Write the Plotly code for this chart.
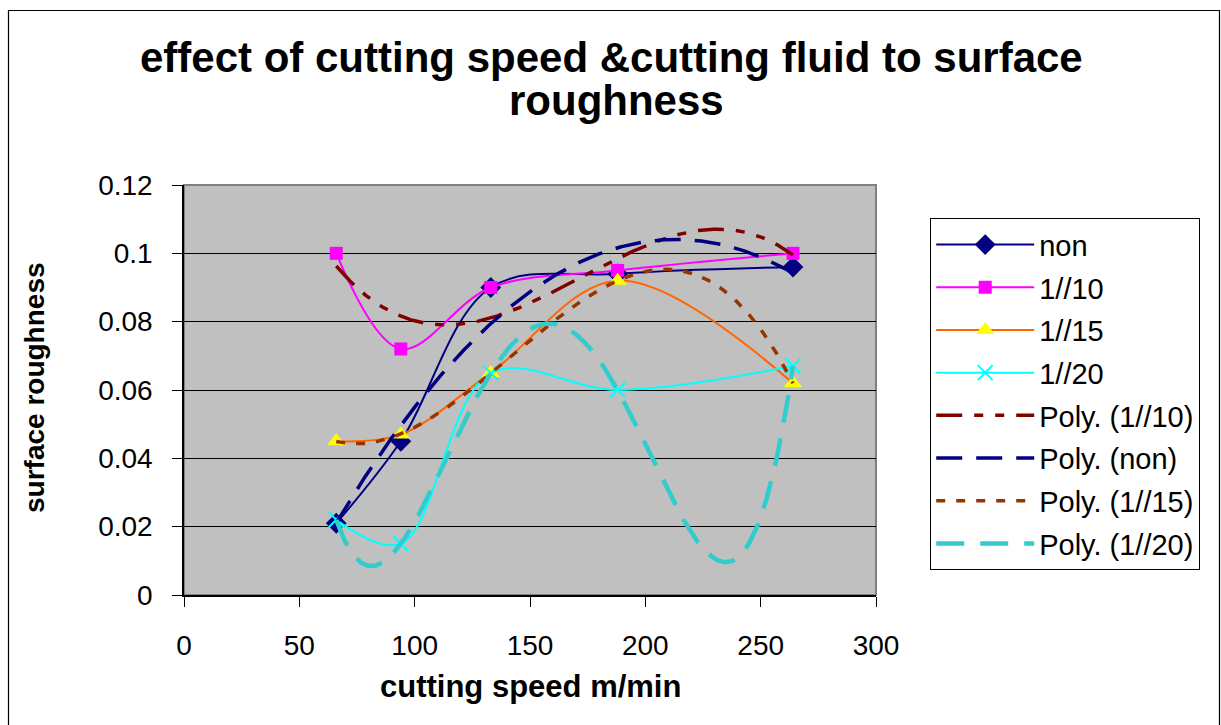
import numpy as np
import plotly.graph_objects as go

# ---- data ----
speed = [66, 94, 133, 188, 264]
non = [0.021, 0.045, 0.090, 0.094, 0.096]
r10 = [0.100, 0.072, 0.090, 0.095, 0.100]
r15 = [0.045, 0.047, 0.065, 0.092, 0.062]
r20 = [0.022, 0.015, 0.065, 0.060, 0.067]

x_ticks = [0, 50, 100, 150, 200, 250, 300]
y_ticks = [0, 0.02, 0.04, 0.06, 0.08, 0.1, 0.12]
y_tick_text = ["0", "0.02", "0.04", "0.06", "0.08", "0.1", "0.12"]

# polynomial trendline orders (as in the spreadsheet trendlines)
trend_order = {"non": 2, "1//10": 3, "1//15": 3, "1//20": 4}

FONT = "Liberation Sans, Arial, sans-serif"

# plot area in pixels
W, H = 1221, 725
L, R, T, B = 184, 876, 185, 595
pw, ph = R - L, B - T


def px(xp):
    return (xp - L) / pw


def py(yp):
    return (B - yp) / ph


fig = go.Figure()

series = [
    ("non", non, "#000080", dict(symbol="diamond", size=16, color="#000080")),
    ("1//10", r10, "#FF00FF", dict(symbol="square", size=13, color="#FF00FF")),
    ("1//15", r15, "#FF6600", dict(symbol="triangle-up", size=16, color="#FFFF00")),
    ("1//20", r20, "#00FFFF", dict(symbol="x-thin", size=15, color="#00FFFF",
                                   line=dict(color="#00FFFF", width=2))),
]
rank = 1
for name, ys, col, mk in series:
    fig.add_trace(go.Scatter(
        x=speed, y=ys, name=name, mode="lines+markers",
        line=dict(color=col, width=2, shape="spline", smoothing=1),
        marker=mk, legendgroup=name, legendrank=rank))
    rank += 1

trends = [
    ("Poly. (1//10)", r10, "1//10", "#800000", 3.5, "26px,12px,9px,12px,9px,12px"),
    ("Poly. (non)", non, "non", "#000080", 3.5, "26px,14px"),
    ("Poly. (1//15)", r15, "1//15", "#993300", 3.5, "9px,11px"),
    ("Poly. (1//20)", r20, "1//20", "#33CCCC", 4.5, "28px,16px"),
]
xs = np.linspace(min(speed), max(speed), 300)
for name, ys, key, col, w, dash in trends:
    coef = np.polyfit(speed, ys, trend_order[key])
    fig.add_trace(go.Scatter(
        x=xs, y=np.polyval(coef, xs), name=name, mode="lines",
        line=dict(color=col, width=w, dash=dash),
        legendgroup=name, legendrank=rank))
    rank += 1

annotations = [
    dict(text="<b>effect of cutting speed &cutting fluid to surface</b>",
         x=px(611), y=py(58), xref="paper", yref="paper", showarrow=False,
         font=dict(family=FONT, size=42, color="black"), xanchor="center", yanchor="middle"),
    dict(text="<b>roughness</b>",
         x=px(616), y=py(100), xref="paper", yref="paper", showarrow=False,
         font=dict(family=FONT, size=42, color="black"), xanchor="center", yanchor="middle"),
    dict(text="<b>cutting speed m/min</b>",
         x=px(530), y=py(686), xref="paper", yref="paper", showarrow=False,
         font=dict(family=FONT, size=31, color="black"), xanchor="center", yanchor="middle"),
    dict(text="<b>surface roughness</b>", textangle=-90,
         x=px(34), y=py(388), xref="paper", yref="paper", showarrow=False,
         font=dict(family=FONT, size=28, color="black"), xanchor="center", yanchor="middle"),
]

shapes = [
    # outer chart frame
    dict(type="rect", xref="paper", yref="paper",
         x0=px(8.5), x1=px(1219.5), y0=py(740), y1=py(10.5),
         line=dict(color="black", width=1.2), fillcolor="rgba(0,0,0,0)", layer="below"),
    # plot area border (grey)
    dict(type="rect", xref="paper", yref="paper", x0=0, x1=1, y0=0, y1=1,
         line=dict(color="#808080", width=2), fillcolor="rgba(0,0,0,0)", layer="below"),
]

fig.update_layout(
    width=W, height=H,
    margin=dict(l=L, r=W - R, t=T, b=H - B, pad=0),
    paper_bgcolor="white", plot_bgcolor="#C0C0C0",
    font=dict(family=FONT, color="black"),
    showlegend=True,
    legend=dict(x=px(930), y=py(218), xanchor="left", yanchor="top",
                bgcolor="white", bordercolor="black", borderwidth=1.2,
                font=dict(family=FONT, size=29, color="black"),
                traceorder="grouped", tracegroupgap=2, itemwidth=98),
    annotations=annotations, shapes=shapes,
)
fig.update_xaxes(range=[0, 300], tickvals=x_ticks, ticks="outside", ticklen=10,
                 tickcolor="black", showline=True, linecolor="black", linewidth=1.5,
                 showgrid=False, zeroline=False, tickfont=dict(size=28),
                 ticklabelstandoff=15)
fig.update_yaxes(range=[0, 0.12], tickvals=y_ticks, ticktext=y_tick_text,
                 ticks="outside", ticklen=10, tickcolor="black", showline=True,
                 linecolor="black", linewidth=1.5, showgrid=True, gridcolor="black",
                 gridwidth=1, zeroline=False, tickfont=dict(size=28),
                 ticklabelstandoff=14)

fig.write_html("out.html")
